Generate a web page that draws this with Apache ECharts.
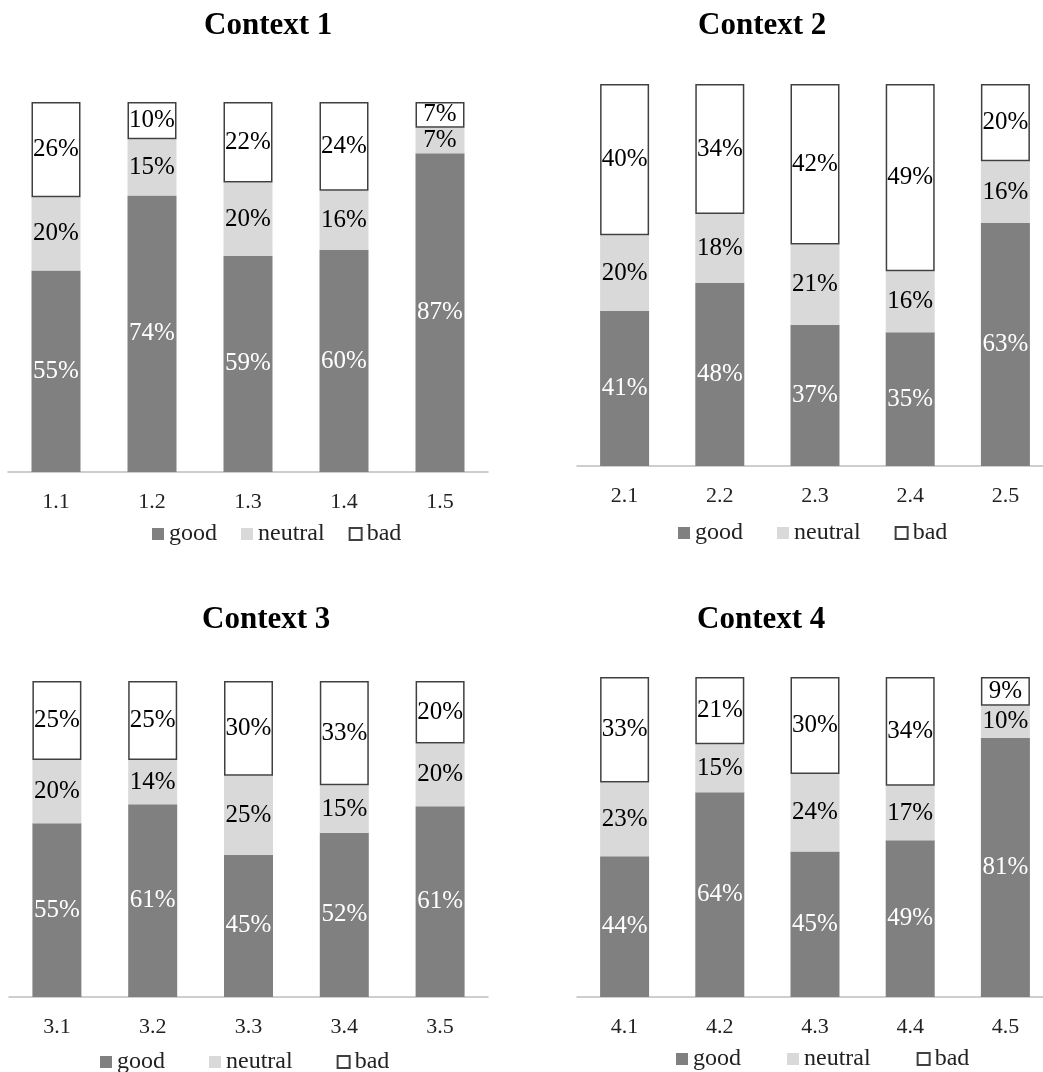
<!DOCTYPE html>
<html>
<head>
<meta charset="utf-8">
<script src="https://cdn.jsdelivr.net/npm/echarts@6/dist/echarts.min.js"></script>
<style>
  html, body { margin: 0; padding: 0; background: #fff; overflow: hidden; }
  /* wider than the window: the right-hand axes run past the edge as in the picture */
  #chart { width: 1060px; height: 1072px; }
</style>
</head>
<body>
<div id="chart"></div>
<script>
// 数据 (percent labels)
var titles = ['Context 1', 'Context 2', 'Context 3', 'Context 4'];
var cats1 = ['1.1', '1.2', '1.3', '1.4', '1.5'];
var cats2 = ['2.1', '2.2', '2.3', '2.4', '2.5'];
var cats3 = ['3.1', '3.2', '3.3', '3.4', '3.5'];
var cats4 = ['4.1', '4.2', '4.3', '4.4', '4.5'];

var good1 = [55, 74, 59, 60, 87];
var neutral1 = [20, 15, 20, 16, 7];
var bad1 = [26, 10, 22, 24, 7];

var good2 = [41, 48, 37, 35, 63];
var neutral2 = [20, 18, 21, 16, 16];
var bad2 = [40, 34, 42, 49, 20];

var good3 = [55, 61, 45, 52, 61];
var neutral3 = [20, 14, 25, 15, 20];
var bad3 = [25, 25, 30, 33, 20];

var good4 = [44, 64, 45, 49, 81];
var neutral4 = [23, 15, 24, 17, 10];
var bad4 = [33, 21, 30, 34, 9];

var panels = [
  { cats: cats1, good: good1, neutral: neutral1, bad: bad1 },
  { cats: cats2, good: good2, neutral: neutral2, bad: bad2 },
  { cats: cats3, good: good3, neutral: neutral3, bad: bad3 },
  { cats: cats4, good: good4, neutral: neutral4, bad: bad4 }
];

// layout (px)
var grids = [
  { left: 8, top: 102, width: 480, height: 370 },
  { left: 577, top: 84, width: 476, height: 382 },
  { left: 9, top: 681, width: 479, height: 316 },
  { left: 577, top: 677, width: 476, height: 320 }
];
var titlePos = [
  { left: 204, top: 10 },
  { left: 698, top: 10 },
  { left: 202, top: 604 },
  { left: 697, top: 604 }
];
var legendPos = [
  { left: 152, top: 522, itemGap: 24 },
  { left: 678, top: 521, itemGap: 34 },
  { left: 100, top: 1050, itemGap: 44 },
  { left: 676, top: 1047, itemGap: 46 }
];

var font = 'Liberation Serif';
var colors = { good: '#808080', neutral: '#d9d9d9', bad: '#ffffff' };

var myChart = echarts.init(document.getElementById('chart'));

var option = {
  backgroundColor: '#fff',
  animation: false,
  title: [],
  grid: [],
  xAxis: [],
  yAxis: [],
  legend: [],
  series: []
};

panels.forEach(function (p, i) {
  option.title.push({
    text: titles[i],
    left: titlePos[i].left,
    top: titlePos[i].top,
    padding: 0,
    textStyle: { fontFamily: font, fontSize: 31, fontWeight: 'bold', color: '#000' }
  });
  option.grid.push(Object.assign({ containLabel: false }, grids[i]));
  option.xAxis.push({
    type: 'category',
    gridIndex: i,
    data: p.cats,
    axisTick: { show: false },
    axisLine: { lineStyle: { color: '#bfbfbf', width: 1.5 } },
    axisLabel: { fontFamily: font, fontSize: 22, color: '#222', margin: 19 }
  });
  option.yAxis.push({ type: 'value', gridIndex: i, min: 0, max: 100, show: false });
  option.legend.push({
    data: ['good', 'neutral', 'bad'],
    left: legendPos[i].left,
    top: legendPos[i].top,
    itemGap: legendPos[i].itemGap,
    itemWidth: 12,
    itemHeight: 12,
    padding: 0,
    icon: 'rect',
    selectedMode: false,
    textStyle: { fontFamily: font, fontSize: 24, color: '#222' }
  });

  // 100% stacked: each column scaled to its own total
  var totals = p.cats.map(function (c, k) { return p.good[k] + p.neutral[k] + p.bad[k]; });
  ['good', 'neutral', 'bad'].forEach(function (name) {
    var raw = p[name];
    option.series.push({
      name: name,
      type: 'bar',
      stack: 'ctx' + i,
      xAxisIndex: i,
      yAxisIndex: i,
      barWidth: 49,
      data: raw.map(function (v, k) { return v / totals[k] * 100; }),
      itemStyle: name === 'bad'
        ? { color: colors.bad, borderColor: '#404040', borderWidth: 1.5 }
        : { color: colors[name] },
      label: {
        show: true,
        position: 'inside',
        fontFamily: font,
        fontSize: 25,
        color: name === 'good' ? '#fff' : '#000',
        formatter: function (params) { return raw[params.dataIndex] + '%'; }
      }
    });
  });
});

myChart.setOption(option);
window.addEventListener('resize', function () {
  myChart.resize();
});
</script>
</body>
</html>
